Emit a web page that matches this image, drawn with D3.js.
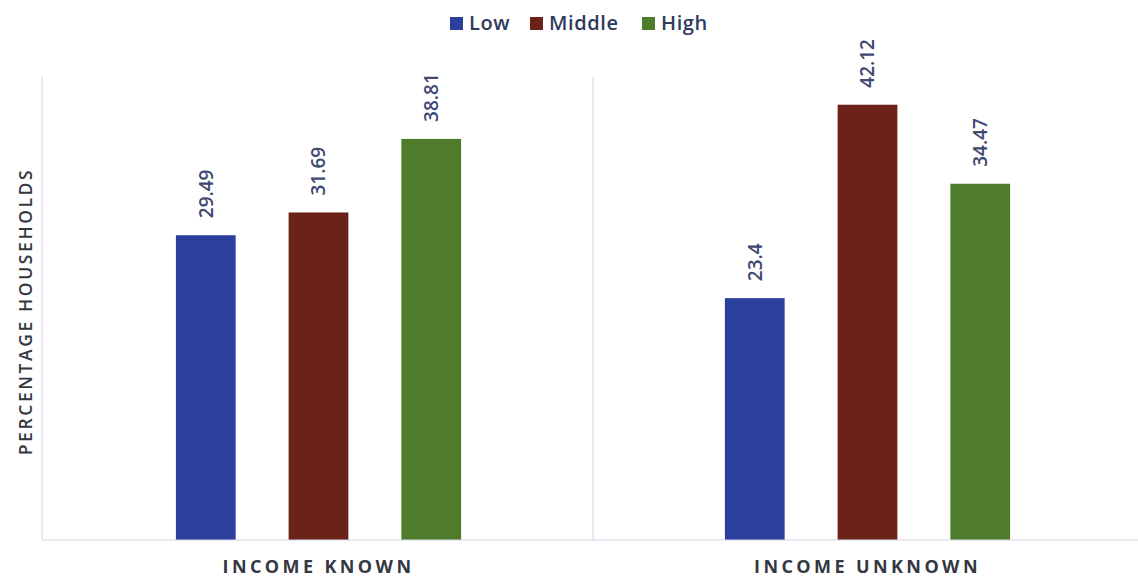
<!DOCTYPE html>
<html>
<head>
<meta charset="utf-8">
<script src="https://cdn.jsdelivr.net/npm/d3@7"></script>
<style>
  html, body { margin: 0; padding: 0; background: #ffffff; }
  svg { display: block; }
</style>
</head>
<body>
<svg id="chart" width="1138" height="579"></svg>
<script>
// Household shares by income tier, split by whether income is reported
const categories = ["INCOME KNOWN", "INCOME UNKNOWN"];
const seriesNames = ["Low", "Middle", "High"];
const lowValues = [29.49, 23.4];
const middleValues = [31.69, 42.12];
const highValues = [38.81, 34.47];
const seriesColors = ["#2b3f9c", "#6a2219", "#4e7c2a"];

const valuesBySeries = [lowValues, middleValues, highValues];

const svg = d3.select("#chart");
const W = 1138, H = 579;
const margin = { left: 42, top: 77, bottom: 39 };
const baseY = H - margin.bottom;

const y = d3.scaleLinear().domain([0, 44.8]).range([baseY, margin.top]);

const x0 = d3.scaleBand()
  .domain(categories)
  .range([margin.left + 2, margin.left + 2 + 2 * 549])
  .paddingInner(0)
  .paddingOuter(0);

const x1 = d3.scaleBand()
  .domain(seriesNames)
  .range([0, x0.bandwidth()])
  .paddingInner(0.47)
  .paddingOuter(1.17);

const color = d3.scaleOrdinal().domain(seriesNames).range(seriesColors);

// Axis frame: left spine and category divider
const frame = svg.append("g").attr("stroke", "#dcd8f2").attr("stroke-width", 1.2);
frame.append("line")
  .attr("x1", margin.left).attr("x2", margin.left)
  .attr("y1", margin.top).attr("y2", baseY);
frame.append("line")
  .attr("x1", x0(categories[1])).attr("x2", x0(categories[1]))
  .attr("y1", margin.top).attr("y2", baseY);

const rows = categories.map((c, i) => ({
  category: c,
  values: seriesNames.map((s, j) => ({ series: s, value: valuesBySeries[j][i] }))
}));

const groups = svg.append("g").selectAll("g")
  .data(rows)
  .join("g")
  .attr("transform", d => `translate(${x0(d.category)},0)`);

groups.selectAll("rect")
  .data(d => d.values)
  .join("rect")
  .attr("x", d => x1(d.series))
  .attr("y", d => y(d.value))
  .attr("width", x1.bandwidth())
  .attr("height", d => y(0) - y(d.value))
  .attr("fill", d => color(d.series));

// Rotated value labels above each bar
groups.selectAll("text.value")
  .data(d => d.values)
  .join("text")
  .attr("class", "value")
  .attr("transform", d => `translate(${x1(d.series) + x1.bandwidth() / 2},${y(d.value) - 17}) rotate(-90)`)
  .attr("dy", "0.36em")
  .attr("text-anchor", "start")
  .attr("font-family", "'Open Sans', sans-serif")
  .attr("font-weight", 600)
  .attr("font-size", 19)
  .attr("fill", "#3e4872")
  .text(d => d.value);

// Baseline drawn through the x axis
const xAxis = svg.append("g")
  .attr("transform", `translate(0,${baseY})`)
  .call(d3.axisBottom(x0).tickSize(0).tickPadding(20));
xAxis.select(".domain")
  .attr("d", `M${margin.left},0H${W}`)
  .attr("stroke", "#d6d3e6").attr("stroke-width", 1.2);
xAxis.selectAll("text")
  .attr("font-family", "'Open Sans', sans-serif")
  .attr("font-weight", 700)
  .attr("font-size", 18)
  .attr("letter-spacing", "3.4px")
  .attr("fill", "#333842");

// Y axis title
svg.append("text")
  .attr("transform", `translate(32,${(margin.top + baseY) / 2 + 3}) rotate(-90)`)
  .attr("text-anchor", "middle")
  .attr("font-family", "'Open Sans', sans-serif")
  .attr("font-weight", 600)
  .attr("font-size", 17.5)
  .attr("letter-spacing", "2.6px")
  .attr("fill", "#333842")
  .text("PERCENTAGE HOUSEHOLDS");

// Legend
const legendItems = [
  { name: "Low", x: 450 },
  { name: "Middle", x: 530 },
  { name: "High", x: 642 }
];
const legend = svg.append("g");
const li = legend.selectAll("g").data(legendItems).join("g")
  .attr("transform", d => `translate(${d.x},0)`);
li.append("rect")
  .attr("width", 13).attr("height", 13)
  .attr("y", 17)
  .attr("fill", d => color(d.name));
li.append("text")
  .attr("x", 19).attr("y", 30)
  .attr("font-family", "'Open Sans', sans-serif")
  .attr("font-weight", 600)
  .attr("font-size", 20)
  .attr("letter-spacing", "0.6px")
  .attr("fill", "#2e3a5c")
  .text(d => d.name);
</script>
</body>
</html>
